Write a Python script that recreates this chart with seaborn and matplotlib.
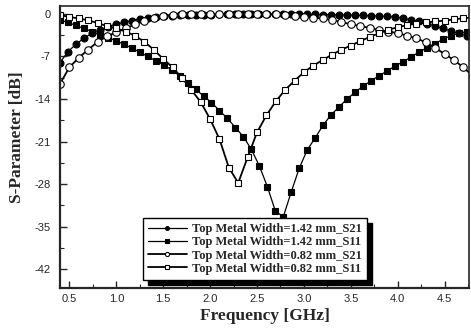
import numpy as np
import pandas as pd
import matplotlib
matplotlib.use("Agg")
import matplotlib.pyplot as plt
from matplotlib.ticker import MultipleLocator, FuncFormatter
import seaborn as sns

# ---------------- data ----------------
freq_142 = [0.400, 0.485, 0.570, 0.655, 0.740, 0.825, 0.910, 0.995, 1.080, 1.165,
            1.250, 1.335, 1.420, 1.505, 1.590, 1.675, 1.760, 1.845, 1.930, 2.015,
            2.100, 2.185, 2.270, 2.355, 2.440, 2.525, 2.610, 2.695, 2.780, 2.865,
            2.950, 3.035, 3.120, 3.205, 3.290, 3.375, 3.460, 3.545, 3.630, 3.715,
            3.800, 3.885, 3.970, 4.055, 4.140, 4.225, 4.310, 4.395, 4.480, 4.565,
            4.650, 4.735, 4.820]
s21_142 = [-8.0, -6.2, -5.0, -4.0, -3.2, -2.6, -2.1, -1.7, -1.4, -1.1,
           -0.8, -0.6, -0.45, -0.35, -0.28, -0.22, -0.18, -0.15, -0.12, -0.10,
           -0.08, -0.07, -0.06, -0.05, -0.05, -0.04, -0.04, -0.04, -0.05, -0.05,
           -0.06, -0.07, -0.08, -0.10, -0.12, -0.14, -0.17, -0.20, -0.24, -0.29,
           -0.35, -0.42, -0.52, -0.70, -0.95, -1.25, -1.6, -2.0, -2.4, -2.8,
           -3.2, -3.6, -3.9]
s11_142 = [-1.0, -1.4, -1.9, -2.4, -2.9, -3.4, -3.9, -4.4, -5.0, -5.6,
           -6.3, -7.0, -7.7, -8.4, -9.2, -10.2, -11.3, -12.4, -13.5, -14.6,
           -15.9, -17.2, -18.7, -20.2, -22.3, -25.0, -28.4, -32.4, -33.4, -29.3,
           -25.4, -22.4, -20.4, -18.3, -16.6, -15.3, -14.0, -12.9, -11.9, -11.0,
           -10.2, -9.4, -8.6, -7.9, -7.1, -6.3, -5.6, -4.9, -4.2, -3.6,
           -3.2, -2.9, -2.7]

freq_082 = [0.4, 0.5, 0.6, 0.7, 0.8, 0.9, 1.0, 1.1, 1.2, 1.3,
            1.4, 1.5, 1.6, 1.7, 1.8, 1.9, 2.0, 2.1, 2.2, 2.3,
            2.4, 2.5, 2.6, 2.7, 2.8, 2.9, 3.0, 3.1, 3.2, 3.3,
            3.4, 3.5, 3.6, 3.7, 3.8, 3.9, 4.0, 4.1, 4.2, 4.3,
            4.4, 4.5, 4.6, 4.7, 4.8]
s21_082 = [-11.5, -8.8, -7.2, -5.9, -4.6, -3.7, -3.0, -2.4, -1.7, -1.1,
           -0.6, -0.3, -0.15, -0.08, -0.05, -0.03, -0.03, -0.03, -0.03, -0.03,
           -0.03, -0.04, -0.05, -0.08, -0.15, -0.3, -0.45, -0.6, -0.75, -1.0,
           -1.35, -1.7, -2.0, -2.3, -2.65, -2.9, -3.15, -3.6, -4.0, -4.7,
           -5.6, -6.6, -7.6, -8.8, -10.2]
s11_082 = [-0.2, -0.5, -0.75, -1.05, -1.5, -2.0, -2.4, -2.9, -3.6, -4.6,
           -5.9, -7.4, -8.8, -10.5, -12.5, -14.5, -17.3, -20.6, -25.3, -27.8,
           -23.6, -19.5, -16.7, -14.4, -12.5, -11.0, -9.6, -8.5, -7.6, -6.7,
           -5.9, -5.2, -4.5, -3.8, -3.2, -2.6, -2.2, -1.85, -1.6, -1.4,
           -1.25, -1.1, -0.9, -0.7, -0.6]

labels = ["Top Metal Width=1.42 mm_S21",
          "Top Metal Width=1.42 mm_S11",
          "Top Metal Width=0.82 mm_S21",
          "Top Metal Width=0.82 mm_S11"]
x_ticks = [0.5, 1.0, 1.5, 2.0, 2.5, 3.0, 3.5, 4.0, 4.5]
y_ticks = [0, -7, -14, -21, -28, -35, -42]

# ---------------- style ----------------
sns.set_style("ticks")
plt.rcParams["font.family"] = ["Liberation Sans", "DejaVu Sans"]
plt.rcParams["axes.unicode_minus"] = False

fig = plt.figure(figsize=(4.71, 3.33), dpi=100)
ax = fig.add_axes([60 / 471, 45 / 333, 409 / 471, 282 / 333])

series = [
    (freq_142, s21_142, "o", "black", 0.9, 5.0),
    (freq_142, s11_142, "s", "black", 0.9, 4.6),
    (freq_082, s21_082, "o", "white", 1.3, 5.4),
    (freq_082, s11_082, "s", "white", 1.3, 5.0),
]
for (fx, fy, mk, face, lw, ms), lab in zip(series, labels):
    df = pd.DataFrame({"f": fx, "db": fy})
    sns.lineplot(data=df, x="f", y="db", ax=ax, sort=False, color="black",
                 lw=lw, marker=mk, markersize=ms, markerfacecolor=face,
                 markeredgecolor="black", markeredgewidth=0.8, label=lab,
                 legend=False)

ax.set_xlim(0.4, 4.76)
ax.set_ylim(-45.1, 1.3)
ax.set_xticks(x_ticks)
ax.set_yticks(y_ticks)
ax.xaxis.set_minor_locator(MultipleLocator(0.25))
ax.yaxis.set_minor_locator(MultipleLocator(3.5))
ax.xaxis.set_major_formatter(FuncFormatter(lambda v, p: f"{v:.1f}"))
ax.yaxis.set_major_formatter(FuncFormatter(lambda v, p: f"{int(round(v))}"))
ax.tick_params(axis="both", which="major", direction="in", length=5, width=1.0,
               labelsize=8, top=False, right=False)
ax.tick_params(axis="both", which="minor", direction="in", length=3, width=0.8,
               top=False, right=False)
ax.tick_params(axis="x", pad=4)
ax.tick_params(axis="y", pad=7)
for side in ["left", "bottom"]:
    ax.spines[side].set_linewidth(1.6)
for side in ["top", "right"]:
    ax.spines[side].set_linewidth(1.2)

serif = ["Liberation Serif", "DejaVu Serif"]
ax.set_xlabel("Frequency [GHz]", family=serif, fontweight="bold", fontsize=12.5,
              labelpad=3)
ax.set_ylabel("S-Parameter [dB]", family=serif, fontweight="bold", fontsize=12.5)
ax.yaxis.set_label_coords(-0.085, 0.535)

handles = ax.get_lines()
leg = ax.legend(handles=handles, labels=labels, loc="upper left",
                bbox_to_anchor=(0.203, 0.248), borderaxespad=0,
                prop={"family": serif, "weight": "bold", "size": 9},
                frameon=True, fancybox=False, edgecolor="black",
                framealpha=1, markerscale=0.55, handlelength=3.1,
                handletextpad=0.4, labelspacing=0.1, borderpad=0.4,
                shadow={"ox": 3.5, "oy": -3.5, "facecolor": "black",
                        "edgecolor": "black", "alpha": 1})
leg.get_frame().set_linewidth(1.0)

fig.savefig("out.png", dpi=100)
